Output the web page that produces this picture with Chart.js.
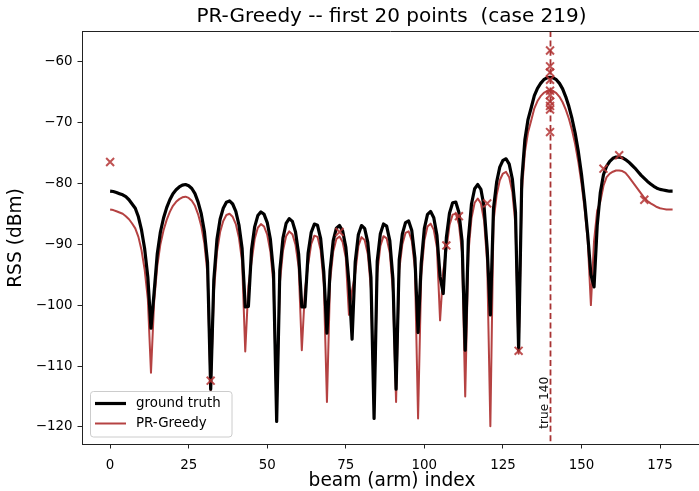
<!DOCTYPE html>
<html><head><meta charset="utf-8">
<script src="https://cdn.jsdelivr.net/npm/chart.js@4.4.1/dist/chart.umd.min.js"></script>
<style>html,body{margin:0;padding:0;background:#fff}#wrap{width:699px;height:491px;position:relative}</style>
</head><body><div id="wrap"><canvas id="c" width="699" height="491"></canvas></div>
<script>
// ---- data ----
const beams = Array.from({length:180}, (_, i) => i);
const groundTruth = [
-81.3,-81.35,-81.5,-81.7,-81.9,-82.2,-82.7,-83.4,-84.1,-85.5,
-87.7,-90.8,-95.4,-103.8,-97.9,-91.6,-88.0,-85.7,-84.0,-82.7,
-81.7,-81.05,-80.6,-80.3,-80.2,-80.4,-80.85,-81.7,-83.1,-85.0,
-87.9,-93.0,-113.8,-95.9,-89.2,-85.9,-84.1,-83.1,-82.9,-83.4,
-84.6,-86.85,-90.7,-100.3,-100.2,-90.9,-87.15,-85.3,-84.7,-85.1,
-86.45,-89.2,-94.7,-119.1,-94.35,-89.0,-86.6,-85.8,-86.25,-88.0,
-91.65,-100.3,-100.3,-91.5,-88.05,-86.7,-86.9,-89.1,-94.6,-104.6,
-94.25,-89.4,-87.36,-86.93,-87.85,-90.45,-96.3,-105.6,-92.9,-88.4,
-86.94,-87.4,-89.7,-95.45,-118.6,-92.8,-88.27,-86.68,-87.04,-89.4,
-95.7,-113.8,-92.55,-88.3,-86.46,-86.18,-87.77,-92.3,-104.5,-93.15,
-87.4,-85.1,-84.63,-85.65,-88.55,-95.3,-98.1,-88.95,-84.9,-83.2,
-83.08,-84.8,-89.45,-107.4,-89.2,-83.4,-80.9,-80.2,-81.0,-83.8,
-90.8,-101.6,-84.15,-79.8,-77.35,-76.23,-75.98,-76.85,-79.3,-84.75,
-107.4,-79.5,-72.8,-69.5,-67.6,-65.6,-64.4,-63.6,-63.0,-62.7,
-62.6,-62.7,-63.0,-63.6,-64.5,-65.8,-67.4,-69.4,-71.8,-74.8,
-78.5,-83.0,-88.5,-95.0,-97.0,-87.0,-81.5,-78.6,-77.2,-76.4,
-75.9,-75.7,-75.7,-75.8,-76.1,-76.5,-77.0,-77.5,-78.1,-78.7,
-79.2,-79.7,-80.1,-80.5,-80.8,-81.0,-81.1,-81.2,-81.3,-81.3
];
const prGreedy = [
-84.3,-84.4,-84.6,-84.8,-85.0,-85.4,-85.9,-86.6,-87.4,-88.8,
-91.0,-94.2,-99.0,-111.1,-99.5,-93.6,-90.0,-87.7,-86.0,-84.7,
-83.7,-83.05,-82.6,-82.3,-82.2,-82.4,-82.85,-83.7,-85.1,-87.0,
-89.9,-95.0,-114.0,-98.0,-91.3,-88.0,-86.2,-85.2,-85.0,-85.5,
-86.7,-88.95,-92.8,-107.6,-96.9,-92.9,-89.15,-87.3,-86.7,-87.1,
-88.45,-91.2,-96.7,-117.5,-96.45,-91.1,-88.7,-87.9,-88.35,-90.1,
-93.75,-107.4,-97.6,-93.4,-89.95,-88.6,-88.8,-91.0,-96.5,-115.9,
-96.05,-91.2,-89.16,-88.73,-89.65,-92.25,-101.6,-97.6,-94.8,-90.3,
-88.84,-89.3,-91.6,-97.35,-117.0,-94.8,-90.27,-88.68,-89.04,-91.4,
-97.7,-115.9,-94.25,-90.0,-88.16,-87.88,-89.47,-94.0,-118.6,-95.15,
-89.4,-87.1,-86.63,-87.65,-90.55,-102.5,-94.4,-90.9,-86.85,-85.15,
-85.0,-86.75,-91.4,-115.0,-91.5,-85.7,-83.2,-82.5,-83.3,-86.1,
-93.1,-119.9,-86.3,-81.95,-79.5,-78.4,-78.13,-79.0,-81.45,-86.9,
-108.0,-81.5,-74.9,-71.6,-69.7,-67.7,-66.5,-65.7,-65.15,-64.85,
-64.75,-64.85,-65.2,-65.8,-66.7,-67.9,-69.4,-71.3,-73.6,-76.5,
-80.0,-84.2,-89.5,-100.0,-89.5,-84.5,-83.0,-80.4,-79.0,-78.4,
-78.1,-77.9,-77.9,-78.0,-78.3,-78.9,-79.6,-80.3,-81.0,-81.7,
-82.4,-82.9,-83.3,-83.6,-83.9,-84.1,-84.2,-84.3,-84.3,-84.3
];
const sampleBeams = [0, 32, 73, 107, 111, 120, 130, 157, 162, 170,
                     140, 140, 140, 140, 140, 140, 140, 140, 140, 140];
const sampleRss   = [-76.5, -112.4, -88.0, -90.2, -85.4, -83.3, -107.5, -77.6, -75.4, -82.7,
                     -58.2, -60.8, -61.8, -63.0, -64.8, -65.5, -66.6, -67.3, -67.9, -71.6];
const xTicks = [0, 25, 50, 75, 100, 125, 150, 175];
const yTicks = [-120, -110, -100, -90, -80, -70, -60];
const trueBeam = 140;
const titleText = 'PR-Greedy -- first 20 points  (case 219)';
const xLabel = 'beam (arm) index';
const yLabel = 'RSS (dBm)';
const seriesNames = ['ground truth', 'PR-Greedy'];

// ---- styles ----
const FONT = 'DejaVu Sans';
const BLACK = '#000000';
const RED = '#b54242';
const MARK = 'rgba(180,52,52,0.85)';
const VLINE = '#a83333';

const gtData = beams.map((b, i) => ({x: b, y: groundTruth[i]}));
const prData = beams.map((b, i) => ({x: b, y: prGreedy[i]}));
const smData = sampleBeams.map((b, i) => ({x: b, y: sampleRss[i]}));

const decor = {
  id: 'decor',
  afterDatasetsDraw(chart) {
    const {ctx, chartArea: a, scales: {x, y}} = chart;
    ctx.save();
    const vx = Math.round(x.getPixelForValue(trueBeam)) + 0.5;
    ctx.strokeStyle = VLINE; ctx.lineWidth = 1.8; ctx.setLineDash([6, 3.4]);
    ctx.beginPath(); ctx.moveTo(vx, a.top); ctx.lineTo(vx, a.bottom); ctx.stroke();
    ctx.setLineDash([]);
    ctx.save();
    ctx.translate(vx - 3, y.getPixelForValue(-120.3));
    ctx.rotate(-Math.PI / 2);
    ctx.fillStyle = '#111'; ctx.font = '12.2px "' + FONT + '"';
    ctx.textAlign = 'left'; ctx.textBaseline = 'alphabetic';
    ctx.fillText('true ' + trueBeam, 0, 0);
    ctx.restore();
    ctx.restore();
  },
  afterDraw(chart) {
    const {ctx, chartArea: a} = chart;
    ctx.save();
    ctx.strokeStyle = '#222'; ctx.lineWidth = 1;
    ctx.beginPath(); ctx.moveTo(a.left, a.top + 0.5); ctx.lineTo(chart.width, a.top + 0.5); ctx.stroke();
    ctx.fillStyle = '#000'; ctx.textAlign = 'center'; ctx.textBaseline = 'middle';
    ctx.font = '20px "' + FONT + '"';
    ctx.fillText(titleText, 391.5, 17);
    ctx.font = '18.6px "' + FONT + '"';
    ctx.fillText(xLabel, 392, 481);
    ctx.save(); ctx.translate(16.5, 238); ctx.rotate(-Math.PI / 2);
    ctx.fillText(yLabel, 0, 0); ctx.restore();
    // legend
    const lx = 90.5, ly = 391.5, lw = 141.5, lh = 45.5, r = 3;
    ctx.beginPath();
    ctx.moveTo(lx + r, ly); ctx.lineTo(lx + lw - r, ly); ctx.quadraticCurveTo(lx + lw, ly, lx + lw, ly + r);
    ctx.lineTo(lx + lw, ly + lh - r); ctx.quadraticCurveTo(lx + lw, ly + lh, lx + lw - r, ly + lh);
    ctx.lineTo(lx + r, ly + lh); ctx.quadraticCurveTo(lx, ly + lh, lx, ly + lh - r);
    ctx.lineTo(lx, ly + r); ctx.quadraticCurveTo(lx, ly, lx + r, ly); ctx.closePath();
    ctx.fillStyle = 'rgba(255,255,255,0.8)'; ctx.fill();
    ctx.strokeStyle = '#cccccc'; ctx.lineWidth = 1; ctx.stroke();
    ctx.lineCap = 'butt';
    ctx.strokeStyle = BLACK; ctx.lineWidth = 3.2;
    ctx.beginPath(); ctx.moveTo(95, 403.5); ctx.lineTo(126, 403.5); ctx.stroke();
    ctx.strokeStyle = RED; ctx.lineWidth = 2;
    ctx.beginPath(); ctx.moveTo(95, 423.5); ctx.lineTo(126, 423.5); ctx.stroke();
    ctx.fillStyle = '#000'; ctx.textAlign = 'left'; ctx.textBaseline = 'middle';
    ctx.font = '13.4px "' + FONT + '"';
    ctx.fillText(seriesNames[0], 136, 404);
    ctx.fillText(seriesNames[1], 136, 424);
    ctx.restore();
  }
};

new Chart(document.getElementById('c'), {
  type: 'line',
  data: {
    datasets: [
      {label: 'samples', type: 'scatter', data: smData, showLine: false,
       pointStyle: 'crossRot', pointRadius: 5.6, pointBorderWidth: 2,
       borderColor: MARK, backgroundColor: MARK, pointHoverRadius: 5.6},
      {label: seriesNames[0], data: gtData, borderColor: BLACK, borderWidth: 3.2,
       pointRadius: 0, tension: 0, borderJoinStyle: 'round', borderCapStyle: 'butt', fill: false},
      {label: seriesNames[1], data: prData, borderColor: RED, borderWidth: 2,
       pointRadius: 0, tension: 0, borderJoinStyle: 'round', fill: false}
    ]
  },
  options: {
    responsive: false, animation: false, devicePixelRatio: 1,
    layout: {autoPadding: false, padding: {top: 31, right: 0, bottom: 0, left: 0}},
    plugins: {legend: {display: false}, title: {display: false}, tooltip: {enabled: false}},
    scales: {
      x: {
        type: 'linear', min: -8.95, max: 187.4,
        afterFit: s => { s.height = 47; s.paddingLeft = 0; s.paddingRight = 0; },
        afterBuildTicks: s => { s.ticks = xTicks.map(v => ({value: v})); },
        ticks: {font: {family: FONT, size: 13.4}, color: '#000', padding: 9, maxRotation: 0, autoSkip: false,
                callback: v => String(v)},
        grid: {display: true, drawOnChartArea: false, drawTicks: true, tickLength: 4.5, color: '#222', tickWidth: 1},
        border: {display: true, color: '#222', width: 1}
      },
      y: {
        type: 'linear', min: -122.8, max: -55.0,
        afterFit: s => { s.width = 82; s.paddingTop = 0; s.paddingBottom = 0; },
        afterBuildTicks: s => { s.ticks = yTicks.map(v => ({value: v})); },
        ticks: {font: {family: FONT, size: 13.4}, color: '#000', padding: 5, autoSkip: false,
                callback: v => String(v).replace('-', '\u2212')},
        grid: {display: true, drawOnChartArea: false, drawTicks: true, tickLength: 4.5, color: '#222', tickWidth: 1},
        border: {display: true, color: '#222', width: 1}
      }
    }
  },
  plugins: [decor]
});
</script>
</body></html>
